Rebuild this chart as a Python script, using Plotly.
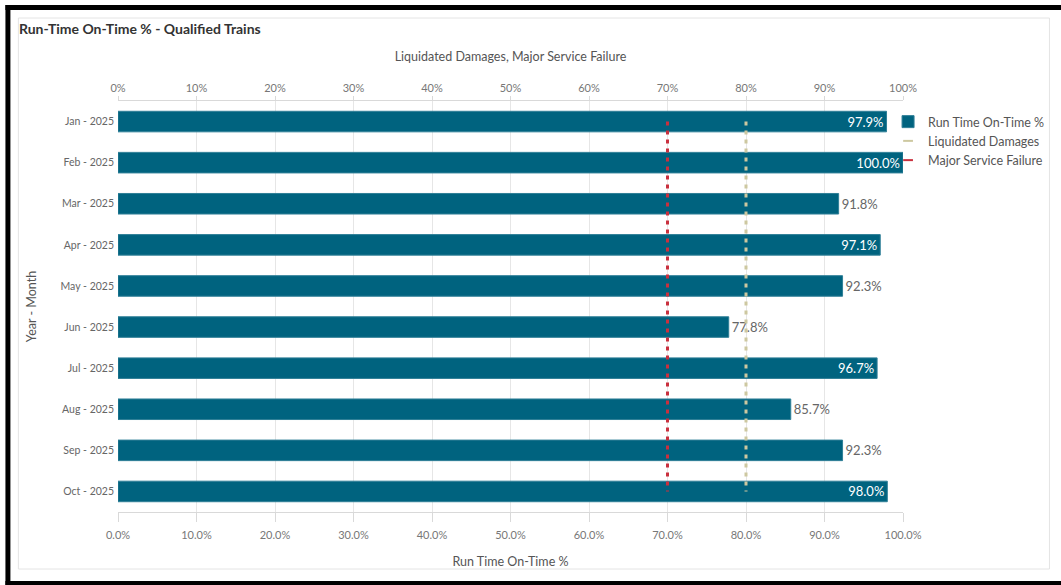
import plotly.graph_objects as go

# ---- data ----
months = ["Jan - 2025", "Feb - 2025", "Mar - 2025", "Apr - 2025", "May - 2025",
          "Jun - 2025", "Jul - 2025", "Aug - 2025", "Sep - 2025", "Oct - 2025"]
run_time_on_time = [97.9, 100.0, 91.8, 97.1, 92.3, 77.8, 96.7, 85.7, 92.3, 98.0]
liquidated_damages = 80
major_service_failure = 70
top_ticks = [0, 10, 20, 30, 40, 50, 60, 70, 80, 90, 100]
top_tick_text = [f"{v}%" for v in top_ticks]
bottom_tick_text = [f"{v:.1f}%" for v in top_ticks]

# ---- geometry helpers (pixel -> paper) ----
W, H = 1061, 585
L, R, T, B = 118, 906, 101, 512


def px(x):
    return (x - L) / (R - L)


def py(y):
    return (B - y) / (B - T)


FONT = "Lato"
BAR = "#00637f"
RED = "#c9303e"
BEIGE = "#cdc8a0"

fig = go.Figure()

fig.add_trace(go.Bar(
    x=run_time_on_time, y=months, orientation="h",
    name="Run Time On-Time %",
    marker=dict(color=BAR, line=dict(color="#2f7f97", width=1)),
    width=0.5,
    texttemplate="%{x:.1f}%",
    textposition=["inside" if v >= 95 else "outside" for v in run_time_on_time],
    insidetextanchor="end",
    insidetextfont=dict(color="white", size=13, family=FONT),
    outsidetextfont=dict(color="#666666", size=13, family=FONT),
    constraintext="none",
    cliponaxis=False,
    showlegend=True,
))

fig.add_trace(go.Scatter(
    x=[major_service_failure] * len(months), y=months, xaxis="x2",
    mode="lines", line=dict(color=RED, width=3, dash="4px,5px"),
    name="Major Service Failure", showlegend=False,
))
fig.add_trace(go.Scatter(
    x=[liquidated_damages] * len(months), y=months, xaxis="x2",
    mode="lines", line=dict(color=BEIGE, width=3, dash="4px,5px"),
    name="Liquidated Damages", showlegend=False,
))
# legend entries
fig.add_trace(go.Scatter(
    x=[None], y=[None], mode="markers", name="Liquidated Damages",
    marker=dict(symbol="line-ew", size=7, line=dict(color=BEIGE, width=2)),
))
fig.add_trace(go.Scatter(
    x=[None], y=[None], mode="markers", name="Major Service Failure",
    marker=dict(symbol="line-ew", size=7, line=dict(color=RED, width=2)),
))

shapes = [
    # card
    dict(type="rect", xref="paper", yref="paper", x0=px(18), x1=px(1053), y0=py(18), y1=py(569),
         line=dict(color="#e4e4e4", width=1), fillcolor="rgba(0,0,0,0)", layer="below"),
    # black frame
    dict(type="rect", xref="paper", yref="paper", x0=px(5), x1=px(1070), y0=py(5), y1=py(10),
         line=dict(width=0), fillcolor="black"),
    dict(type="rect", xref="paper", yref="paper", x0=px(5), x1=px(10), y0=py(5), y1=py(590),
         line=dict(width=0), fillcolor="black"),
    dict(type="rect", xref="paper", yref="paper", x0=px(5), x1=px(1070), y0=py(581), y1=py(590),
         line=dict(width=0), fillcolor="black"),
]

fig.update_layout(
    width=W, height=H, autosize=False,
    margin=dict(l=L, r=W - R, t=T, b=H - B, pad=0),
    paper_bgcolor="white", plot_bgcolor="white",
    font=dict(family=FONT, color="#666666", size=11),
    title=dict(text="Run-Time On-Time % - Qualified Trains", x=19 / W, xanchor="left",
               y=1 - 29 / H, yanchor="middle",
               font=dict(family=FONT, size=14, color="#333333", weight="bold")),
    xaxis=dict(range=[0, 100], tickvals=top_ticks, ticktext=bottom_tick_text,
               showgrid=True, gridcolor="#e6e6e6", zeroline=False,
               showline=True, linecolor="#d9d9d9", ticks="outside", ticklen=9, tickcolor="#d9d9d9",
               ticklabelstandoff=4,
               tickfont=dict(size=11, color="#777777"),
               title=dict(text="Run Time On-Time %", font=dict(size=12.5, color="#555555"), standoff=17)),
    xaxis2=dict(range=[0, 100], tickvals=top_ticks, ticktext=top_tick_text,
                overlaying="x", side="top", showgrid=False, zeroline=False,
                showline=True, linecolor="#d9d9d9", ticks="outside", ticklen=4, tickcolor="#d9d9d9",
                tickfont=dict(size=11, color="#777777"),
                title=dict(text="Liquidated Damages, Major Service Failure",
                           font=dict(size=12.5, color="#555555"), standoff=16)),
    yaxis=dict(autorange="reversed", showgrid=False, zeroline=False, showline=False,
               ticks="", ticklabelstandoff=3,
               tickfont=dict(size=10.5, color="#666666"),
               title=dict(text="Year - Month", font=dict(size=12.5, color="#555555"), standoff=21)),
    legend=dict(x=px(891), y=py(107), xanchor="left", yanchor="top",
                font=dict(size=12.5, color="#555555"), bgcolor="rgba(0,0,0,0)",
                tracegroupgap=0),
    bargap=0.5,
    shapes=shapes,
)

fig.write_html("out.html", config={"displayModeBar": False, "responsive": False},
               post_script="document.body.style.margin='0';")
